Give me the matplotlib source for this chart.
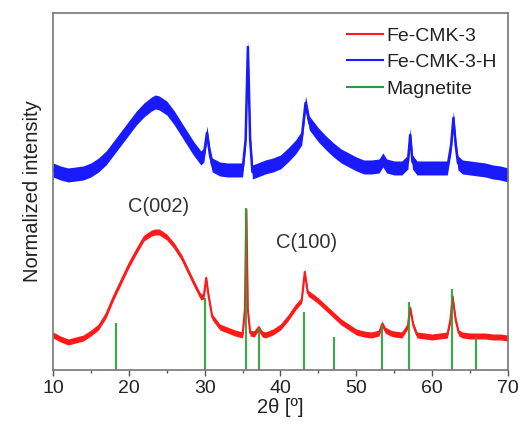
import matplotlib
matplotlib.use("Agg")
import matplotlib.pyplot as plt
import numpy as np
from matplotlib.lines import Line2D

plt.rcParams['font.family'] = ['Liberation Sans', 'DejaVu Sans']

# Fe-CMK-3 pattern (2theta, intensity in arbitrary units)
red_2theta = [10, 11, 12, 13, 14, 15, 16, 17, 18, 19, 20, 21, 22, 23, 23.5, 24, 25, 26, 27, 28,
              28.5, 29.5, 29.9, 30.2, 30.5, 31, 32, 33, 34, 35, 35.3, 35.5, 35.7, 36, 36.5, 37.1,
              37.6, 38, 39, 40, 41, 42, 42.8, 43.2, 43.6, 44.5, 45, 46, 47, 48, 49, 50, 51, 52, 53,
              53.4, 53.8, 54.5, 55, 56, 56.8, 57.1, 57.5, 58, 59, 60, 61, 62, 62.4, 62.7, 63.1,
              63.5, 64, 65, 66, 67, 68, 69, 70]
red_int = [35, 31, 28, 30, 32, 37, 43, 55, 73, 89, 105, 119, 132, 137, 138, 138, 133, 124, 112, 96,
           88, 73, 74, 92, 75, 53, 43, 40, 37, 35, 60, 160, 60, 37, 36, 42,
           36, 35, 38, 43, 52, 63, 70, 98, 77, 72, 69, 62, 55, 48, 43, 38, 36, 35, 37,
           46, 40, 37, 36, 35, 44, 62, 45, 35, 34, 33, 34, 35, 50, 73, 50,
           37, 35, 34, 34, 34, 33, 33, 32]

# Fe-CMK-3-H pattern
blue_2theta = [10, 11, 12, 13, 14, 15, 16, 17, 18, 19, 20, 21, 22, 23, 23.5, 24, 25, 26, 27, 28,
               28.5, 29.5, 29.9, 30.3, 30.7, 31, 32, 33, 34, 35, 35.4, 35.7, 36, 36.3, 37, 38, 39,
               40, 41, 42, 42.8, 43.3, 43.8, 44.5, 45, 46, 47, 48, 49, 50, 51, 52, 53, 53.5, 54,
               55, 56, 56.8, 57.1, 57.4, 58, 59, 60, 61, 62, 62.5, 62.8, 63.1, 63.4, 64, 65, 66,
               67, 68, 69, 70]
blue_int = [200, 197, 195, 196, 197, 200, 205, 212, 222, 232, 242, 252, 260, 266, 268, 267, 262, 252, 240, 228,
            222, 212, 215, 237, 215, 205, 201, 200, 200, 200, 230, 323, 230, 198, 200, 203, 205,
            208, 215, 223, 232, 267, 247, 240, 235, 227, 220, 214, 210, 206, 203, 203, 204, 210, 204,
            202, 202, 208, 235, 208, 202, 202, 202, 202, 202, 225, 252, 225, 207, 203, 202, 201,
            200, 198, 197, 195]

# magnetite reference lines
mag_2theta = [18.3, 30.1, 35.5, 37.1, 43.1, 47.1, 53.4, 57.0, 62.6, 65.8]
mag_int = [47, 72, 162, 42, 58, 33, 45, 68, 81, 33]

RED, BLUE, GREEN = '#ff1a1a', '#1a1aff', '#2e9a3e'

fig = plt.figure(figsize=(5.22, 4.32), dpi=100)
ax = fig.add_axes([0.1015, 0.1435, 0.8717, 0.8265])

# noisy scans drawn as a band around the trace
red_y = np.array(red_int)
blue_y = np.array(blue_int)
ax.fill_between(red_2theta, red_y - 3, red_y + 3, color=RED, lw=0)
ax.plot(red_2theta, red_y, color=RED, lw=1.5)
ax.fill_between(blue_2theta, blue_y - 7, blue_y + 7, color=BLUE, lw=0)
ax.plot(blue_2theta, blue_y, color=BLUE, lw=1.8)
ax.vlines(mag_2theta, 0, mag_int, color=GREEN, lw=1.6, alpha=0.9)

ax.text(23.9, 163, 'C(002)', fontsize=14.5, ha='center', va='center', color='#333333')
ax.text(43.5, 127, 'C(100)', fontsize=14.5, ha='center', va='center', color='#333333')

ax.set_xlim(10, 70)
ax.set_ylim(0, 357)
ax.set_xticks([10, 20, 30, 40, 50, 60, 70])
ax.set_xticks([15, 25, 35, 45, 55, 65], minor=True)
ax.set_yticks([])
ax.tick_params(axis='x', which='major', length=4, width=1, labelsize=14, pad=3,
               color='#555555', labelcolor='#222222')
ax.tick_params(axis='x', which='minor', length=2.5, width=1, color='#555555')
for s in ax.spines.values():
    s.set_color('#777777')
    s.set_linewidth(1.2)

ax.set_xlabel('2θ [º]', fontsize=14.5, labelpad=1, color='#222222')
ax.set_ylabel('Normalized intensity', fontsize=14.5, labelpad=8, color='#222222')

handles = [Line2D([], [], color=RED, lw=1.5),
           Line2D([], [], color=BLUE, lw=1.5),
           Line2D([], [], color=GREEN, lw=1.5)]
ax.legend(handles, ['Fe-CMK-3', 'Fe-CMK-3-H', 'Magnetite'], loc='upper left',
          bbox_to_anchor=(0.646, 0.96), frameon=False, fontsize=14,
          handlelength=1.85, handletextpad=0.2, labelspacing=0.45, borderaxespad=0,
          borderpad=0, labelcolor='#222222')

fig.savefig('out.png', dpi=100)
